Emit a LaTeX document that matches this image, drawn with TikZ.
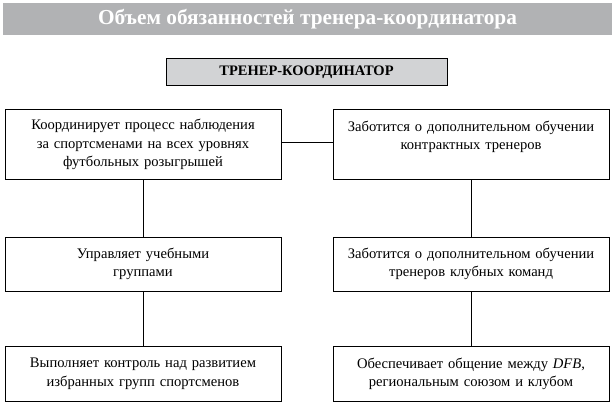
\documentclass[tikz,border=0pt]{standalone}
\usepackage{fontspec}
\setmainfont{Liberation Serif}
\definecolor{barGray}{HTML}{B1B2B4}
\definecolor{headGray}{HTML}{D2D3D5}
\begin{document}
\begin{tikzpicture}[x=1pt, y=-1pt,
        duty/.style={draw, line width=0.8pt, minimum width=276pt, text width=270pt,
            align=center, inner sep=0pt, font=\rmfamily\fontsize{14.6}{18.5}\selectfont}]
        \useasboundingbox (0, 0) rectangle (615, 407);

        \node[fill=barGray, minimum width=609pt, minimum height=32pt, text=white,
            font=\rmfamily\fontsize{21.3}{24}\selectfont\bfseries] (title) at (307.5, 19)
            {Объем обязанностей тренера-координатора};
        \node[draw, line width=0.8pt, fill=headGray, minimum width=281pt, minimum height=27pt,
            font=\rmfamily\fontsize{14.5}{16}\selectfont\bfseries] (coord) at (306.5, 72)
            {ТРЕНЕР-КООРДИНАТОР};

        \node[duty, minimum height=70pt] (watch) at (143, 144.5)
            {Координирует процесс наблюдения\\за спортсменами на всех уровнях\\футбольных розыгрышей};
        \node[duty, minimum height=70pt] (contract) at (471, 144.5)
            {Заботится о дополнительном обучении\\контрактных тренеров\\\mbox{}};
        \node[duty, minimum height=54pt] (groups) at (143, 264)
            {Управляет учебными\\группами};
        \node[duty, minimum height=54pt] (club) at (471, 264)
            {Заботится о дополнительном обучении\\тренеров клубных команд};
        \node[duty, minimum height=55pt] (control) at (143, 374)
            {Выполняет контроль над развитием\\избранных групп спортсменов};
        \node[duty, minimum height=55pt] (dfb) at (471, 374)
            {Обеспечивает общение между \textit{DFB},\\региональным союзом и клубом};

        \draw[line width=0.8pt] ([yshift=2.5pt]watch.east) -- ([yshift=2.5pt]contract.west);
        \draw[line width=0.8pt] (watch) -- (groups);
        \draw[line width=0.8pt] (groups) -- (control);
        \draw[line width=0.8pt] (contract) -- (club);
        \draw[line width=0.8pt] (club) -- (dfb);
    \end{tikzpicture}
\end{document}
